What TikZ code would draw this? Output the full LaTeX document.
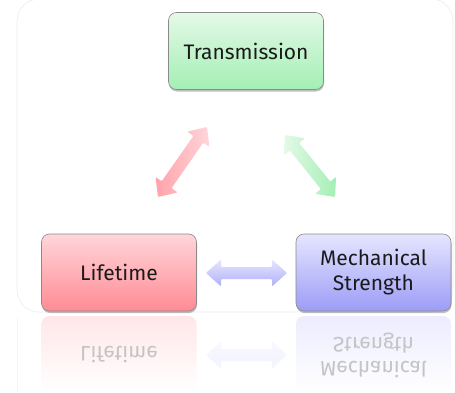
\documentclass[tikz,border=0pt]{standalone}
\usepackage{fontspec}
\setmainfont{Fira Sans}
\usetikzlibrary{calc,shadows}
\definecolor{gtop}{HTML}{E4F9E7}
\definecolor{gbot}{HTML}{A3EFB4}
\definecolor{rtop}{HTML}{FFD6DA}
\definecolor{rbot}{HTML}{FF8B94}
\definecolor{btop}{HTML}{E6E6FF}
\definecolor{bbot}{HTML}{9C9CF6}
\definecolor{boxline}{HTML}{8A8A8A}
\definecolor{textcol}{HTML}{1A1A1A}
\definecolor{frameline}{HTML}{EDEDED}
\definecolor{reftext}{HTML}{C4C4C4}
\newcommand\dblarrow[3]{%
  \shade[#3] (#1)
    -- ($(#1)!15pt!(#2)!13.5pt!90:(#2)$)
    -- ($(#1)!15pt!(#2)!6pt!90:(#2)$)
    -- ($(#2)!15pt!(#1)!6pt!-90:(#1)$)
    -- ($(#2)!15pt!(#1)!13.5pt!-90:(#1)$)
    -- (#2)
    -- ($(#2)!15pt!(#1)!13.5pt!90:(#1)$)
    -- ($(#2)!15pt!(#1)!6pt!90:(#1)$)
    -- ($(#1)!15pt!(#2)!6pt!-90:(#2)$)
    -- ($(#1)!15pt!(#2)!13.5pt!-90:(#2)$)
    -- cycle;}
\begin{document}
\begin{tikzpicture}[x=1pt,y=1pt,
  box/.style={draw=boxline, line width=0.6pt, rounded corners=8pt,
    minimum width=155pt, minimum height=77pt, align=center,
    font=\fontsize{21}{25}\selectfont, text=textcol,
    drop shadow={shadow xshift=0.5pt, shadow yshift=-2pt, opacity=0.25, fill=black}},
  refbox/.style={rounded corners=8pt, minimum width=155pt, minimum height=77pt,
    align=center, font=\fontsize{21}{25}\selectfont, text=reftext},
  arrowshade/.style={rounded corners=1pt}]
\useasboundingbox (0,0) rectangle (455,392);
\fill[white] (0,0) rectangle (455,392);
% background frame
\draw[frameline, line width=0.6pt, rounded corners=22pt] (17,80) rectangle (453,393);
\draw[frameline!50, line width=0.6pt] (17,74) -- (17,0);
% boxes
\node[box, top color=gtop, bottom color=gbot] (trans) at (246,341) {Transmission};
\node[box, top color=rtop, bottom color=rbot] (life) at (119,119.5) {Lifetime};
\node[box, top color=btop, bottom color=bbot] (mech) at (373.5,119.5) {Mechanical\\Strength};
% reflections
\node[refbox, top color=rtop!60!white, bottom color=white] (lifeR) at (119,37.5)
  {\scalebox{1}[-1]{Lifetime}};
\node[refbox, top color=btop!75!white, bottom color=white] (mechR) at (373.5,37.5)
  {\scalebox{1}[-1]{\begin{tabular}{@{}c@{}}Mechanical\\[-1pt]Strength\end{tabular}}};
% arrow end points
\coordinate (h1) at (206,119);
\coordinate (h2) at (287,119);
\coordinate (r1) at (158,195);
\coordinate (r2) at (207,265);
\coordinate (g1) at (285,257);
\coordinate (g2) at (335,195);
\coordinate (hr1) at (206,37);
\coordinate (hr2) at (287,37);
\dblarrow{h1}{h2}{arrowshade, top color=btop, bottom color=bbot!80!white}
\dblarrow{r1}{r2}{arrowshade, left color=rbot!80!white, right color=rtop}
\dblarrow{g1}{g2}{arrowshade, left color=gtop, right color=gbot}
\dblarrow{hr1}{hr2}{arrowshade, top color=btop!30!white, bottom color=btop!45!white}
\end{tikzpicture}
\end{document}
